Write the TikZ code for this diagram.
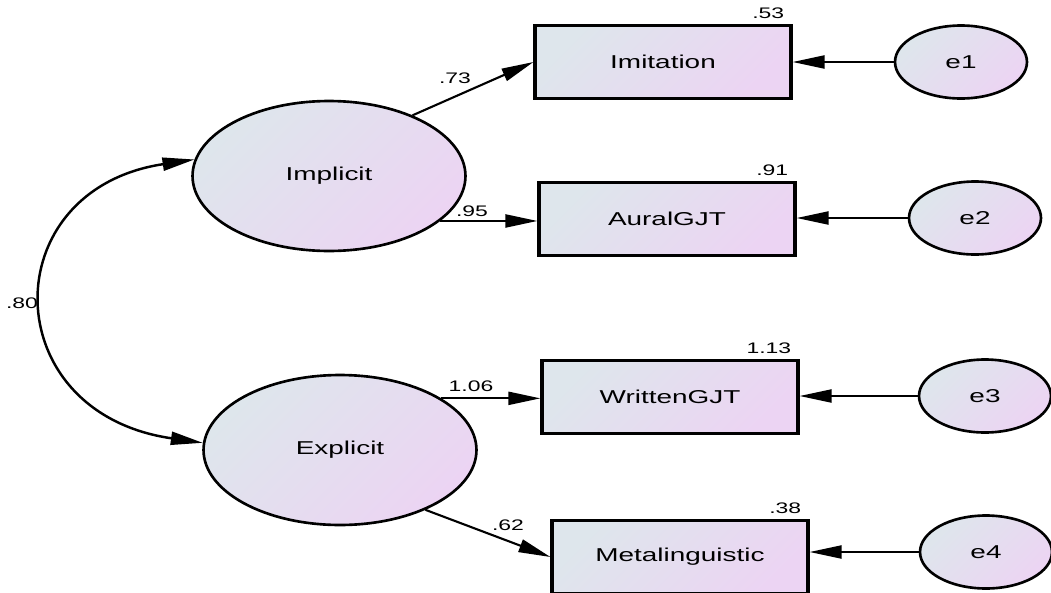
\documentclass[tikz,border=0pt]{standalone}
\usepackage{xcolor}
\usepackage{fontspec}
\newfontfamily\amosfont{Liberation Sans}[FakeStretch=1.5]
\usepackage{tikz}
\usetikzlibrary{positioning,shapes,arrows.meta,calc}

\definecolor{fillA}{RGB}{222,230,236}
\definecolor{fillB}{RGB}{236,212,243}

\begin{document}
\begin{tikzpicture}[x=0.02cm, y=-0.02cm,
    every node/.style={font=\amosfont\fontsize{10.6}{12}\selectfont, text=black},
    grad/.style={top color=fillA, bottom color=fillB, shading angle=45},
    latent/.style={ellipse, draw, line width=1.5pt, grad, minimum width=5.46cm, minimum height=3cm, inner sep=0pt},
    err/.style={ellipse, draw, line width=1.5pt, grad, minimum width=2.64cm, minimum height=1.46cm, inner sep=0pt},
    obs/.style={rectangle, draw, line width=1.8pt, grad, minimum width=5.12cm, minimum height=1.46cm},
    lbl/.style={font=\amosfont\fontsize{8.7}{10}\selectfont, inner sep=0pt},
    arr/.style={line width=1.2pt, -{Triangle[length=0.64cm, width=0.26cm]}}]
    \useasboundingbox (0,0) rectangle (1051,592);

    \node[latent] (Implicit) at (329,176) {Implicit};
    \node[latent] (Explicit) at (340,450) {Explicit};

    \node[obs] (Imitation) at (663,62) {Imitation};
    \node[obs] (AuralGJT) at (667,219) {AuralGJT};
    \node[obs] (WrittenGJT) at (670,397) {WrittenGJT};
    \node[obs] (Metalinguistic) at (680,557) {Metalinguistic};

    \foreach \n/\x/\y in {e1/961/62, e2/975/218, e3/985/396, e4/986/552}
        \node[err] (\n) at (\x,\y) {\n};

    \draw[arr] (Implicit.36) -- (Imitation.west);
    \draw[arr] (Implicit.-22) -- (Implicit.-22 -| AuralGJT.west);
    \draw[arr] (Explicit.27) -- (Explicit.27 -| WrittenGJT.west);
    \draw[arr] (Explicit.-35) -- (Metalinguistic.west);

    \foreach \e/\v in {e1/Imitation, e2/AuralGJT, e3/WrittenGJT, e4/Metalinguistic}
        \draw[arr] (\e.west) -- (\e.west -| \v.east);

    \draw[line width=1.4pt, {Triangle[length=0.64cm, width=0.26cm]}-{Triangle[length=0.64cm, width=0.26cm]}]
        (Implicit.173) .. controls +(-201,30) and +(-208,-30) .. (Explicit.177);

    \node[lbl] at (22,303) {.80};
    \node[lbl] at (455,78) {.73};
    \node[lbl] at (472,211) {.95};
    \node[lbl] at (471,386) {1.06};
    \node[lbl] at (508,525) {.62};

    \foreach \b/\val in {Imitation/.53, AuralGJT/.91, WrittenGJT/1.13, Metalinguistic/.38}
        \node[lbl, anchor=south east] at ([shift={(-8,-5)}]\b.north east) {\val};
\end{tikzpicture}
\end{document}
